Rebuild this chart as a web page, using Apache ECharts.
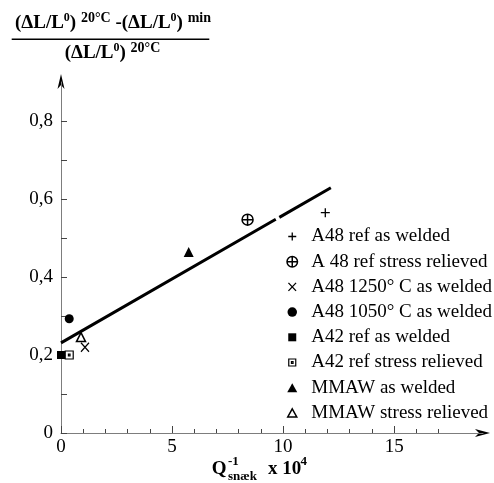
<!DOCTYPE html>
<html>
<head>
<meta charset="utf-8">
<script src="https://cdn.jsdelivr.net/npm/echarts@6/dist/echarts.min.js"></script>
<style>
html, body { margin: 0; padding: 0; background: #fff; }
#chart { width: 494px; height: 483px; }
</style>
</head>
<body>
<div id="chart"></div>
<script>
// Relative drop of thermal expansion versus internal friction Q^-1 (snæk) x 10^4

const seriesNames = [
  'A48 ref as welded',
  'A 48 ref stress relieved',
  'A48 1250° C as welded',
  'A48 1050° C as welded',
  'A42 ref as welded',
  'A42 ref stress relieved',
  'MMAW as welded',
  'MMAW stress relieved'
];
const qValues = [11.9, 8.4, 1.08, 0.37, 0, 0.37, 5.75, 0.9];
const ratioValues = [0.565, 0.547, 0.22, 0.293, 0.2, 0.2, 0.464, 0.246];

// Fitted trend line (drawn with a short break)
const fitLineQ = [0, 9.67, 9.75, 9.83, 12.15];
const fitLineRatio = [0.231, 0.548, '-', 0.553, 0.629];

const xMajorTicks = [0, 5, 10, 15];
const xMinorTicks = [1, 2, 3, 4, 6, 7, 8, 9, 11, 12, 13, 14, 16, 17];
const xLabels = [0, 5, 10, 15];
const yTicks = [0, 0.1, 0.2, 0.3, 0.4, 0.5, 0.6, 0.7, 0.8];
const yLabels = [0, 0.2, 0.4, 0.6, 0.8];

const SERIF = 'Liberation Serif, Times New Roman, serif';

// Marker shapes for the plot area
const PLUS = 'path://M5 0V10M0 5H10';
const OPLUS = 'path://M0 5A5 5 0 1 1 10 5A5 5 0 1 1 0 5ZM5 0V10M0 5H10';
const CROSS = 'path://M0 0L8 9M8 0L0 9';
const BOXDOT = 'path://M0 0H10V10H0ZM4 4H6V6H4Z';

// Legend icons, each framed in a 12x12 box so their relative sizes are kept
const FRAME = 'M0 0M12 12';
const legendIcons = [
  'path://' + FRAME + 'M6 2V10M2 6H10',
  'path://' + FRAME + 'M0.75 6A5.25 5.25 0 1 1 11.25 6A5.25 5.25 0 1 1 0.75 6ZM6 0.75V11.25M0.75 6H11.25',
  'path://' + FRAME + 'M2.2 2L9.8 10M9.8 2L2.2 10',
  'path://' + FRAME + 'M1.25 6A4.75 4.75 0 1 1 10.75 6A4.75 4.75 0 1 1 1.25 6Z',
  'path://' + FRAME + 'M2 2H10V10H2Z',
  'path://' + FRAME + 'M2.5 2.5H9.5V9.5H2.5ZM5.2 5.2H6.8V6.8H5.2Z',
  'path://' + FRAME + 'M6 1.5L11 10.5L1 10.5Z',
  'path://' + FRAME + 'M6 2L10.5 10L1.5 10Z'
];

const markerStyles = [
  { symbol: PLUS,       size: 9,  color: '#000', border: '#000', bw: 1.3 },
  { symbol: OPLUS,      size: 11, color: '#fff', border: '#000', bw: 1.5 },
  { symbol: CROSS,      size: [8, 9], color: '#000', border: '#000', bw: 1.3 },
  { symbol: 'circle',   size: 9,  color: '#000', border: '#000', bw: 0 },
  { symbol: 'rect',     size: 8,  color: '#000', border: '#000', bw: 0 },
  { symbol: BOXDOT,     size: 8,  color: '#fff', border: '#000', bw: 1.2 },
  { symbol: 'triangle', size: 10, color: '#000', border: '#000', bw: 0 },
  { symbol: 'triangle', size: 9,  color: '#fff', border: '#000', bw: 1.5 }
];

const scatterSeries = seriesNames.map((name, i) => ({
  type: 'scatter',
  name: name,
  clip: false,
  symbol: markerStyles[i].symbol,
  symbolSize: markerStyles[i].size,
  itemStyle: {
    color: markerStyles[i].color,
    borderColor: markerStyles[i].border,
    borderWidth: markerStyles[i].bw,
    opacity: 1
  },
  emphasis: { disabled: true },
  data: [[qValues[i], ratioValues[i]]],
  z: 5
}));

const lineSeries = {
  type: 'line',
  name: 'fit',
  data: fitLineQ.map((q, i) => [q, fitLineRatio[i]]),
  showSymbol: false,
  symbol: 'none',
  connectNulls: false,
  lineStyle: { color: '#000', width: 3 },
  emphasis: { disabled: true },
  silent: true,
  z: 3
};

const legendData = seriesNames.map((name, i) => ({
  name: name,
  icon: legendIcons[i],
  itemStyle: {
    color: markerStyles[i].color,
    borderColor: markerStyles[i].border,
    borderWidth: markerStyles[i].bw
  }
}));

const axisGray = '#7d7d7d';
const tickGray = '#444';

const chart = echarts.init(document.getElementById('chart'), null, { renderer: 'canvas' });

const titleRich = {
  m: { fontSize: 19, fontWeight: 'bold', fontFamily: SERIF, fill: '#000', lineHeight: 21, verticalAlign: 'bottom' },
  z: { fontSize: 12, fontWeight: 'bold', fontFamily: SERIF, fill: '#000', lineHeight: 15, verticalAlign: 'top' },
  t: { fontSize: 14, fontWeight: 'bold', fontFamily: SERIF, fill: '#000', lineHeight: 16, verticalAlign: 'top' }
};

const textPieces = [
  // numerator
  { type: 'text', x: 113, y: 11.5, style: {
      text: '{m|(ΔL/L}{z|0}{m|) }{t|20°C}{m| -(ΔL/L}{z|0}{m|) }{t|min}',
      textAlign: 'center', textVerticalAlign: 'top', rich: titleRich } },
  // fraction bar
  { type: 'line', shape: { x1: 11.7, y1: 39.3, x2: 209.3, y2: 39.3 },
    style: { stroke: '#000', lineWidth: 1.5 } },
  // denominator
  { type: 'text', x: 112.5, y: 41.5, style: {
      text: '{m|(ΔL/L}{z|0}{m|) }{t|20°C}',
      textAlign: 'center', textVerticalAlign: 'top', rich: titleRich } },
  // x axis name: Q^-1 with subscript snæk, x 10^4
  { type: 'text', x: 211.7, y: 468.7, style: { text: 'Q', fontSize: 19, fontWeight: 'bold', fontFamily: SERIF, fill: '#000', textVerticalAlign: 'middle' } },
  { type: 'text', x: 228, y: 461.7, style: { text: '-1', fontSize: 13, fontWeight: 'bold', fontFamily: SERIF, fill: '#000', textVerticalAlign: 'middle' } },
  { type: 'text', x: 228, y: 476.7, style: { text: 'snæk', fontSize: 13, fontWeight: 'bold', fontFamily: SERIF, fill: '#000', textVerticalAlign: 'middle' } },
  { type: 'text', x: 268, y: 468.7, style: { text: 'x 10', fontSize: 19, fontWeight: 'bold', fontFamily: SERIF, fill: '#000', textVerticalAlign: 'middle' } },
  { type: 'text', x: 300.5, y: 461.7, style: { text: '4', fontSize: 13, fontWeight: 'bold', fontFamily: SERIF, fill: '#000', textVerticalAlign: 'middle' } }
];

const X_MAX = 19;
const Y_MAX = 0.9;

chart.setOption({
  animation: false,
  backgroundColor: '#fff',
  grid: { left: 61, right: 11, top: 82, bottom: 50, containLabel: false },
  xAxis: [{
    type: 'value',
    min: 0, max: X_MAX,
    position: 'bottom',
    axisLine: { show: true, onZero: false, lineStyle: { color: axisGray, width: 1 } },
    axisTick: { show: true, inside: true, length: 7, customValues: xMajorTicks, lineStyle: { color: tickGray, width: 1 } },
    axisLabel: { show: true, customValues: xLabels, margin: 5, fontSize: 19, fontFamily: SERIF, color: '#000' },
    splitLine: { show: false }
  }, {
    type: 'value',
    min: 0, max: X_MAX,
    position: 'bottom',
    axisLine: { show: false, onZero: false },
    axisTick: { show: true, inside: true, length: 4, customValues: xMinorTicks, lineStyle: { color: tickGray, width: 1 } },
    axisLabel: { show: false },
    splitLine: { show: false }
  }],
  yAxis: {
    type: 'value',
    min: 0, max: Y_MAX,
    axisLine: { show: true, onZero: false, lineStyle: { color: axisGray, width: 1 } },
    axisTick: { show: true, inside: true, length: 6, customValues: yTicks, lineStyle: { color: tickGray, width: 1 } },
    axisLabel: {
      show: true, customValues: yLabels, margin: 8, fontSize: 19, fontFamily: SERIF, color: '#000',
      padding: [0, 0, 4, 0],
      formatter: v => (v === 0 ? '0' : String(v).replace('.', ','))
    },
    splitLine: { show: false }
  },
  legend: {
    orient: 'vertical',
    left: 285.5,
    top: 227,
    padding: 0,
    itemWidth: 28,
    itemHeight: 12,
    itemGap: 6.2,
    selectedMode: false,
    textStyle: { fontFamily: SERIF, fontSize: 19, color: '#000', lineHeight: 19 },
    data: legendData
  },
  series: [lineSeries].concat(scatterSeries),
  graphic: textPieces
});

// Arrow heads at the far ends of both axes
const xEnd = chart.convertToPixel({ xAxisIndex: 0, yAxisIndex: 0 }, [X_MAX, 0]);
const yEnd = chart.convertToPixel({ xAxisIndex: 0, yAxisIndex: 0 }, [0, Y_MAX]);
const arrowX = {
  type: 'polygon',
  shape: { points: [[xEnd[0] + 7, xEnd[1]], [xEnd[0] - 8, xEnd[1] - 4], [xEnd[0] - 4, xEnd[1]], [xEnd[0] - 8, xEnd[1] + 4]] },
  style: { fill: '#000' }
};
const arrowY = {
  type: 'polygon',
  shape: { points: [[yEnd[0], yEnd[1] - 8], [yEnd[0] - 3.5, yEnd[1] + 7], [yEnd[0], yEnd[1] + 3], [yEnd[0] + 3.5, yEnd[1] + 7]] },
  style: { fill: '#000' }
};
chart.setOption({ graphic: textPieces.concat([arrowX, arrowY]) });
</script>
</body>
</html>
